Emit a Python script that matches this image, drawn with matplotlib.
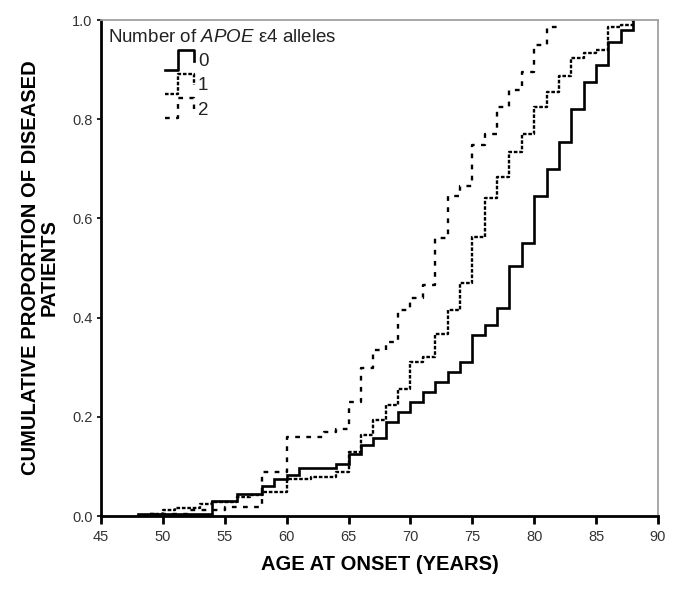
import matplotlib
matplotlib.use('Agg')
import matplotlib.pyplot as plt

plt.rcParams['font.family'] = ['Liberation Sans', 'DejaVu Sans']
plt.rcParams['mathtext.fontset'] = 'custom'
plt.rcParams['mathtext.it'] = 'Liberation Sans:italic'
plt.rcParams['mathtext.rm'] = 'Liberation Sans'
plt.rcParams['lines.scale_dashes'] = False

# cumulative proportion of diseased patients, by number of APOE e4 alleles
ages_0 = [48, 54, 56, 58, 59, 60, 61, 64, 65, 66, 67, 68, 69, 70, 71, 72, 73, 74,
          75, 76, 77, 78, 79, 80, 81, 82, 83, 84, 85, 86, 87, 88]
prop_0 = [0.005, 0.03, 0.045, 0.06, 0.075, 0.083, 0.097, 0.105, 0.125, 0.143, 0.157,
          0.19, 0.21, 0.23, 0.25, 0.27, 0.29, 0.31, 0.365, 0.385, 0.42, 0.505, 0.55,
          0.645, 0.70, 0.755, 0.82, 0.875, 0.91, 0.955, 0.98, 1.0]

ages_1 = [49, 50, 51, 53, 54, 56, 57, 58, 60, 62, 64, 65, 66, 67, 68, 69, 70, 71,
          72, 73, 74, 75, 76, 77, 78, 79, 80, 81, 82, 83, 84, 85, 86, 87, 88]
prop_1 = [0.005, 0.012, 0.017, 0.024, 0.029, 0.038, 0.042, 0.049, 0.074, 0.078, 0.089,
          0.13, 0.163, 0.194, 0.224, 0.257, 0.311, 0.32, 0.366, 0.415, 0.469, 0.563,
          0.642, 0.684, 0.733, 0.771, 0.825, 0.855, 0.887, 0.924, 0.933, 0.94, 0.985,
          0.99, 1.0]

ages_2 = [49, 52, 55, 58, 60, 63, 64, 65, 66, 67, 68, 69, 70, 71, 72, 73, 74, 75,
          76, 77, 78, 79, 80, 81]
prop_2 = [0.005, 0.012, 0.019, 0.089, 0.16, 0.17, 0.176, 0.23, 0.298, 0.335, 0.351,
          0.415, 0.44, 0.465, 0.56, 0.645, 0.665, 0.748, 0.771, 0.825, 0.859, 0.896,
          0.95, 0.985]

end_ages = [88, 88, 82]
group_labels = ['0', '1', '2']
x_ticks = [45, 50, 55, 60, 65, 70, 75, 80, 85, 90]
y_ticks = [0.0, 0.2, 0.4, 0.6, 0.8, 1.0]

styles = [
    dict(color='black', lw=1.9, ls='-'),
    dict(color='black', lw=1.7, dashes=(2.6, 1.3)),
    dict(color='black', lw=1.7, dashes=(3.4, 4.6)),
]

fig = plt.figure(figsize=(6.85, 5.94), dpi=100)
ax = fig.add_axes([0.1474, 0.1313, 0.8132, 0.835])

series = [(ages_0, prop_0), (ages_1, prop_1), (ages_2, prop_2)]
for (ages, prop), end, st in zip(series, end_ages, styles):
    xs = list(ages) + [end]
    ys = list(prop) + [prop[-1]]
    ax.plot(xs, ys, drawstyle='steps-post', solid_joinstyle='miter', **st)

ax.set_xlim(45, 90)
ax.set_ylim(0, 1.0)
ax.set_xticks(x_ticks)
ax.set_yticks(y_ticks)
ax.set_yticklabels([f'{v:.1f}' for v in y_ticks])
ax.tick_params(axis='x', direction='out', length=6, width=2, color='black',
               labelsize=10.5, labelcolor='#333333', pad=4)
ax.tick_params(axis='y', direction='out', length=3, width=1.2, color='black',
               labelsize=10.5, labelcolor='#333333', pad=3)

for side in ['left', 'bottom']:
    ax.spines[side].set_linewidth(2)
    ax.spines[side].set_color('black')
for side in ['top', 'right']:
    ax.spines[side].set_linewidth(1.3)
    ax.spines[side].set_color('#a0a0a0')

ax.set_xlabel('AGE AT ONSET (YEARS)', fontsize=14.5, fontweight='bold', labelpad=8)
ax.set_ylabel('CUMULATIVE PROPORTION OF DISEASED\nPATIENTS', fontsize=14.5,
              fontweight='bold', labelpad=10, linespacing=0.95)

# legend drawn as in the original: small step glyphs with the group numbers
ax.text(0.013, 0.965, r'Number of $APOE$ ε4 alleles', transform=ax.transAxes,
        fontsize=13.5, color='#222222', va='center', ha='left')
glyph_x = [0.115, 0.139, 0.139, 0.167, 0.167]
for i, (lab, st) in enumerate(zip(group_labels, styles)):
    top = 0.940 - i * 0.049
    low = top - 0.040
    glyph_y = [low, low, top, top, top - 0.022]
    ax.plot(glyph_x, glyph_y, transform=ax.transAxes, clip_on=False, **st)
    ax.text(0.174, low + 0.016, lab, transform=ax.transAxes, fontsize=13.5,
            color='#222222', va='center', ha='left')

fig.savefig('out.png', dpi=100)
